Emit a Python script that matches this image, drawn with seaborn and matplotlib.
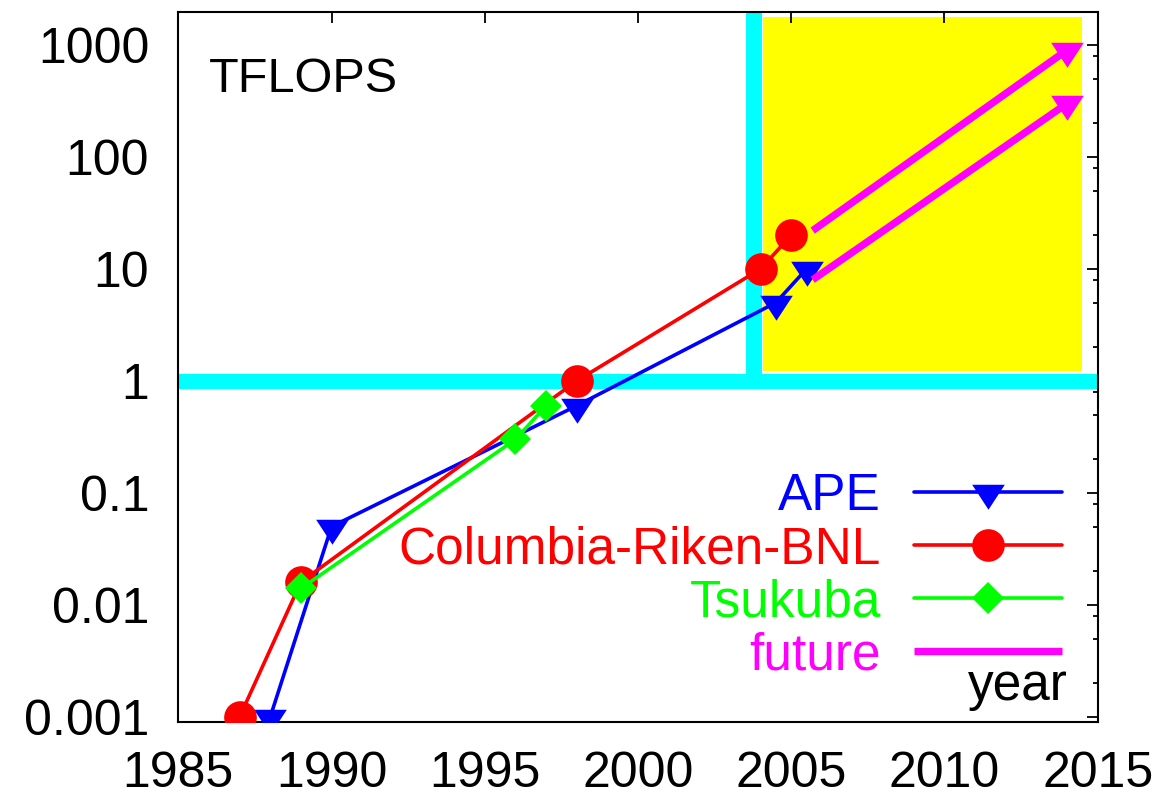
import numpy as np
import pandas as pd
import matplotlib
matplotlib.use("Agg")
import matplotlib.pyplot as plt
from matplotlib.path import Path
from matplotlib.ticker import FixedLocator, FixedFormatter, LogLocator, NullFormatter
import seaborn as sns

# ---- data: sustained lattice-QCD machine performance (TFLOPS) by year ----
ape_years = [1988, 1990, 1998, 2004.5, 2005.5]
ape_tflops = [0.001, 0.05, 0.6, 5, 10]

crb_years = [1987, 1989, 1998, 2004, 2005]
crb_tflops = [0.001, 0.016, 1.0, 10, 20]

tsukuba_years = [1989, 1996, 1997]
tsukuba_tflops = [0.014, 0.3, 0.6]

future_upper_years = [2005.7, 2014]
future_upper_tflops = [22, 900]
future_lower_years = [2005.7, 2014]
future_lower_tflops = [8, 300]

series_labels = ["APE", "Columbia-Riken-BNL", "Tsukuba", "future"]

x_ticks = [1985, 1990, 1995, 2000, 2005, 2010, 2015]
x_tick_labels = ["1985", "1990", "1995", "2000", "2005", "2010", "2015"]
y_ticks = [0.001, 0.01, 0.1, 1, 10, 100, 1000]
y_tick_labels = ["0.001", "0.01", "0.1", "1", "10", "100", "1000"]

teraflop_level = 1.0
teraflop_year = 2003.8
shaded_years = (2004.07, 2014.5)
shaded_tflops = (1.23, 1790)

# ---- styling ----
BLUE, RED, GREEN, MAGENTA = "#0000ff", "#ff0000", "#00ff00", "#ff00ff"
CYAN, YELLOW = "#00ffff", "#ffff00"

sns.set_theme(style="white")
plt.rcParams["font.family"] = ["Liberation Sans", "DejaVu Sans"]
plt.rcParams["axes.linewidth"] = 1.5

# downward triangle whose reference point sits near the top edge
tri_down = Path([(-16.35, 7.75), (16.35, 7.75), (0.0, -17.25), (-16.35, 7.75)],
                [Path.MOVETO, Path.LINETO, Path.LINETO, Path.CLOSEPOLY])
TRI_MS = 24.8
LW = 2.6

fig = plt.figure(figsize=(11.71, 7.96), dpi=100)
ax = fig.add_axes([0.1523, 0.0930, 0.7851, 0.8923])

ax.set_xscale("linear")
ax.set_yscale("log")
ax.set_xlim(1985, 2015)
ax.set_ylim(0.0009, 1980)

# highlighted region beyond the teraflop threshold
ax.fill_between(list(shaded_years), shaded_tflops[0], shaded_tflops[1],
                color=YELLOW, linewidth=0, zorder=0.5)
ax.axhline(teraflop_level, color=CYAN, linewidth=11, solid_capstyle="butt", zorder=1)
ax.vlines(teraflop_year, teraflop_level, 1950, color=CYAN, linewidth=11.5,
          capstyle="butt", zorder=1)

ape_df = pd.DataFrame({"year": ape_years, "tflops": ape_tflops})
crb_df = pd.DataFrame({"year": crb_years, "tflops": crb_tflops})
tsu_df = pd.DataFrame({"year": tsukuba_years, "tflops": tsukuba_tflops})
fut_up_df = pd.DataFrame({"year": future_upper_years, "tflops": future_upper_tflops})
fut_lo_df = pd.DataFrame({"year": future_lower_years, "tflops": future_lower_tflops})

sns.lineplot(data=ape_df, x="year", y="tflops", ax=ax, sort=False, color=BLUE,
             linewidth=LW, marker=tri_down, markersize=TRI_MS, markeredgewidth=0,
             label=series_labels[0], zorder=3)
sns.lineplot(data=crb_df, x="year", y="tflops", ax=ax, sort=False, color=RED,
             linewidth=LW, marker="o", markersize=23.5, markeredgewidth=0,
             label=series_labels[1], zorder=3)
sns.lineplot(data=tsu_df, x="year", y="tflops", ax=ax, sort=False, color=GREEN,
             linewidth=LW, marker="D", markersize=15.8, markeredgewidth=0,
             label=series_labels[2], zorder=3)
sns.lineplot(data=fut_up_df, x="year", y="tflops", ax=ax, sort=False, color=MAGENTA,
             linewidth=5.3, solid_capstyle="butt", label=series_labels[3], zorder=3)
sns.lineplot(data=fut_lo_df, x="year", y="tflops", ax=ax, sort=False, color=MAGENTA,
             linewidth=5.3, solid_capstyle="butt", legend=False, zorder=3)
# arrow heads at the projected end points
ends = pd.DataFrame({"year": [future_upper_years[-1], future_lower_years[-1]],
                     "tflops": [future_upper_tflops[-1], future_lower_tflops[-1]]})
sns.scatterplot(data=ends, x="year", y="tflops", ax=ax, marker=tri_down,
                s=TRI_MS ** 2, color=MAGENTA, linewidth=0, legend=False, zorder=4)

# ---- axes, ticks ----
ax.xaxis.set_major_locator(FixedLocator(x_ticks))
ax.xaxis.set_major_formatter(FixedFormatter(x_tick_labels))
ax.yaxis.set_major_locator(FixedLocator(y_ticks))
ax.yaxis.set_major_formatter(FixedFormatter(y_tick_labels))
ax.yaxis.set_minor_locator(LogLocator(base=10, subs=(2, 5, 8), numticks=20))
ax.yaxis.set_minor_formatter(NullFormatter())
ax.tick_params(axis="both", which="both", direction="in", top=True, right=True,
               colors="black", width=1.3)
ax.tick_params(axis="both", which="major", length=8, labelsize=36)
ax.tick_params(axis="y", which="minor", length=3.8)
ax.tick_params(axis="x", which="major", pad=21)
ax.tick_params(axis="y", which="major", pad=21)
ax.set_xlabel("")
ax.set_ylabel("")
for sp in ax.spines.values():
    sp.set_color("black")
    sp.set_linewidth(1.5)

ax.text(0.033, 0.8874, "TFLOPS", transform=ax.transAxes, fontsize=35,
        ha="left", va="baseline", color="black")
ax.text(0.9677, 0.031, "year", transform=ax.transAxes, fontsize=37,
        ha="right", va="baseline", color="black")

handles, labels = ax.get_legend_handles_labels()
leg = ax.legend(handles, labels, loc="upper right", bbox_to_anchor=(0.961, 0.352),
                frameon=False, markerfirst=False, labelcolor="linecolor",
                fontsize=37, handlelength=2.88, handletextpad=0.64,
                labelspacing=0.08, borderpad=0, borderaxespad=0, numpoints=1)
for t in leg.get_texts():
    t.set_ha("right")

fig.savefig("out.png", dpi=100)
